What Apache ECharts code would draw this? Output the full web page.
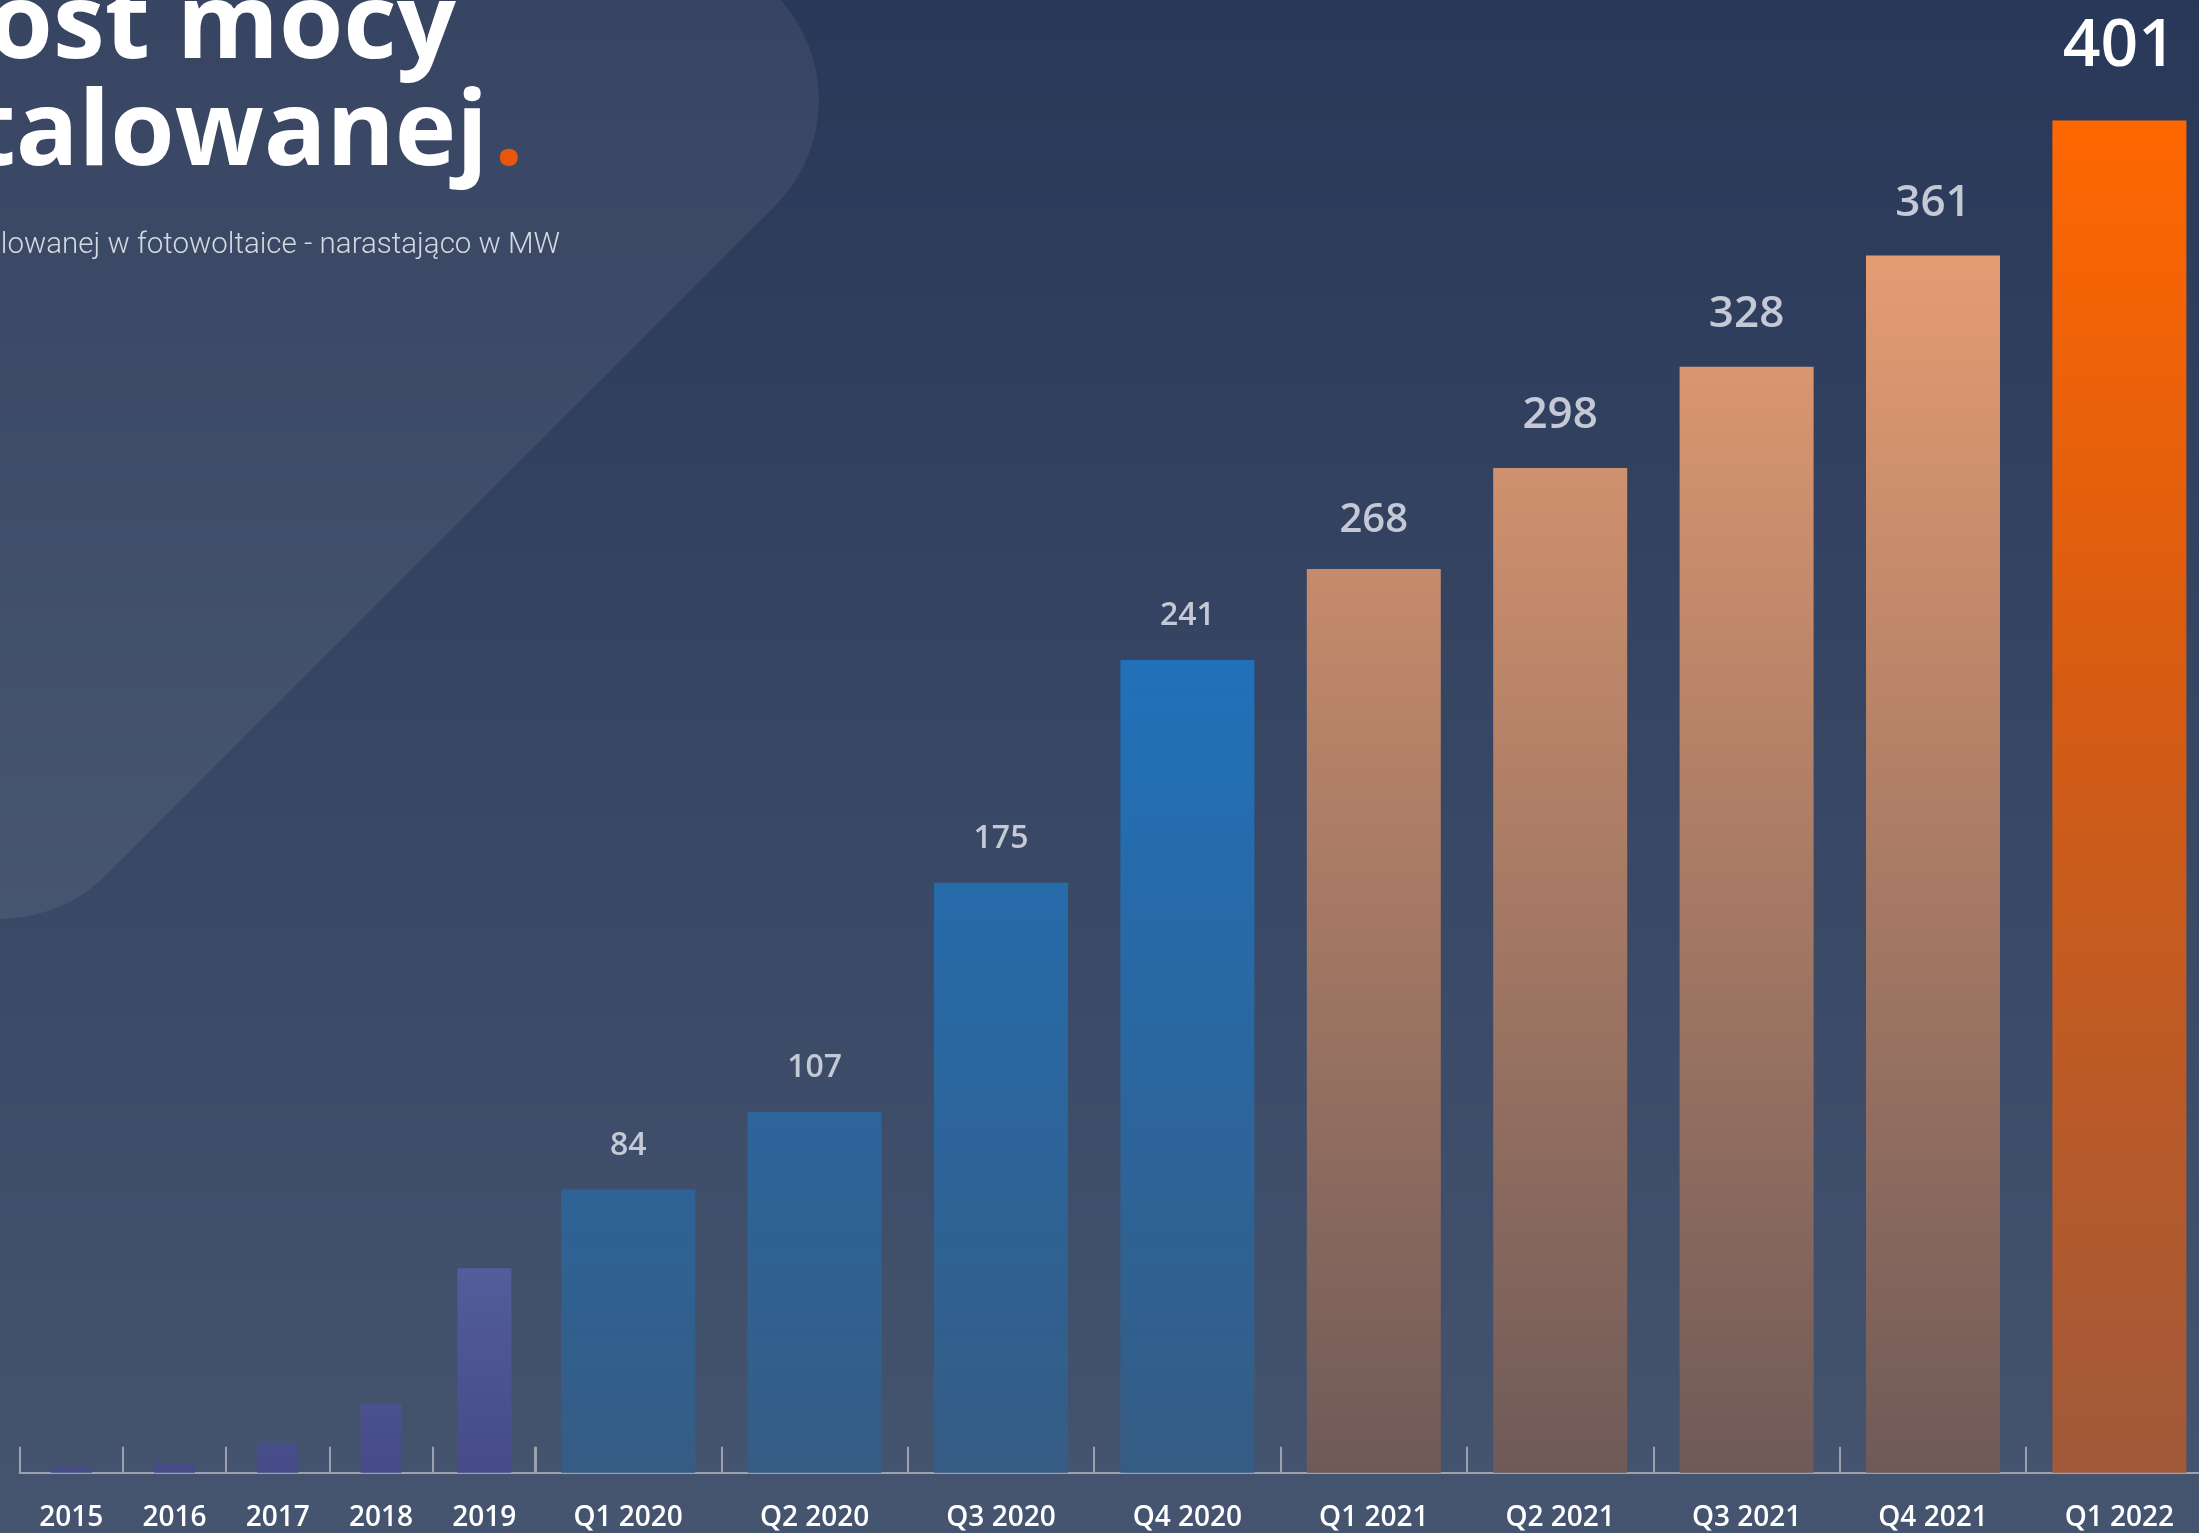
<!DOCTYPE html>
<html><head><meta charset="utf-8">
<script src="https://cdn.jsdelivr.net/npm/echarts@6/dist/echarts.min.js"></script>
<style>html,body{margin:0;padding:0;background:#2f3d5b;overflow:hidden}#c{width:2199px;height:1533px}</style>
</head><body><div id="c"></div>
<script>
// ---- data ----
const yearCategories = ['2015', '2016', '2017', '2018', '2019'];
const yearValues = [1.7, 2.8, 8.5, 20.5, 60.6];
const quarterCategories = ['Q1 2020', 'Q2 2020', 'Q3 2020', 'Q4 2020', 'Q1 2021', 'Q2 2021', 'Q3 2021', 'Q4 2021', 'Q1 2022'];
const quarterValues = [84, 107, 175, 241, 268, 298, 328, 361, 401];
const titleLine1 = 'Wzrost mocy';
const titleLine2 = 'zainstalowanej';
const titleDot = '.';
const subtitleText = 'Wzrost mocy zainstalowanej w fotowoltaice - narastająco w MW';

// ---- styles ----
const W = 2199, H = 1533;
const FONT = '"Open Sans", "Noto Sans", sans-serif';
const axisColor = '#9ba1ad';
function grad(y1, y2, stops) {
  return { type: 'linear', x: 0, y: y1, x2: 0, y2: y2, global: true,
    colorStops: stops.map(s => ({ offset: s[0], color: s[1] })) };
}
const yearGrad = grad(1200, 1473, [[0, '#5663a1'], [1, '#464b87']]);
const blueGrad = grad(450, 1473, [[0, '#1a7ed8'], [0.15, '#1f72bd'], [1, '#355c84']]);
const orangeGrad = grad(200, 1473, [[0, '#e99f73'], [1, '#6f5a58']]);
const brightGrad = grad(120, 1473, [[0, '#ff6700'], [0.4, '#d85c12'], [1, '#a0593a']]);

function quarterColor(i) {
  if (i < 4) return blueGrad;
  if (i < 8) return orangeGrad;
  return brightGrad;
}
function quarterLabel(i) {
  if (i < 4) return { fontSize: 32, color: '#c4c9d5', distance: 28 };
  if (i === 4) return { fontSize: 40, color: '#c4c9d5', distance: 28 };
  if (i < 8) return { fontSize: 44, color: '#c4c9d5', distance: 30 };
  return { fontSize: 66, color: '#ffffff', distance: 40 };
}

const axisCommon = {
  type: 'category',
  axisLine: { show: true, lineStyle: { color: axisColor, width: 2 } },
  axisTick: { show: true, inside: true, length: 26, lineStyle: { color: axisColor, width: 2 } },
  axisLabel: { color: '#ffffff', fontSize: 28, fontWeight: 600, fontFamily: FONT, margin: 31, interval: 0 },
  splitLine: { show: false }
};

const gridTop = 120.6, gridBottom = H - 1472.7;
const option = {
  animation: false,
  backgroundColor: 'transparent',
  grid: [
    { left: 19.6, width: 516.4, top: gridTop, bottom: gridBottom, outerBoundsMode: 'none', containLabel: false },
    { left: 535, width: 1677.6, top: gridTop, bottom: gridBottom, outerBoundsMode: 'none', containLabel: false }
  ],
  xAxis: [
    Object.assign({}, axisCommon, { gridIndex: 0, data: yearCategories }),
    { type: 'category', gridIndex: 0, data: yearCategories, show: false, position: 'bottom' },
    Object.assign({}, axisCommon, { gridIndex: 1, data: quarterCategories })
  ],
  yAxis: [
    { type: 'value', gridIndex: 0, min: 0, max: 401, show: false },
    { type: 'value', gridIndex: 1, min: 0, max: 401, show: false }
  ],
  graphic: [
    { type: 'rect', z: -20, silent: true, shape: { x: 0, y: 0, width: W, height: H },
      style: { fill: new echarts.graphic.LinearGradient(0, 0, 0, 1, [
        { offset: 0, color: '#293858' }, { offset: 1, color: '#45556f' }]) } },
    { type: 'rect', z: -19, silent: true, x: 0, y: 100, rotation: Math.PI / 4,
      shape: { x: -623, y: -623, width: 1246, height: 1246, r: 150 },
      style: { fill: 'rgba(255,255,255,0.065)' } },
    { type: 'text', z: 10, silent: true, x: 456, y: 28,
      style: { text: titleLine1, font: 'bold 104px ' + FONT, fill: '#ffffff', textAlign: 'right', textVerticalAlign: 'middle' } },
    { type: 'text', z: 10, silent: true, x: 488, y: 135,
      style: { text: titleLine2, font: 'bold 104px ' + FONT, fill: '#ffffff', textAlign: 'right', textVerticalAlign: 'middle' } },
    { type: 'text', z: 10, silent: true, x: 494, y: 135,
      style: { text: titleDot, font: 'bold 104px ' + FONT, fill: '#e8560e', textAlign: 'left', textVerticalAlign: 'middle' } },
    { type: 'text', z: 10, silent: true, x: 560, y: 246,
      style: { text: subtitleText, font: '300 29.5px Roboto, sans-serif', fill: '#d5d9e1', textAlign: 'right', textVerticalAlign: 'middle' } }
  ],
  series: [
    { type: 'bar', name: 'roczne', xAxisIndex: 0, yAxisIndex: 0, barWidth: 41,
      data: yearValues.map((v, i) => i < 4 ? v : '-'),
      itemStyle: { color: yearGrad } },
    { type: 'bar', name: 'roczne 2019', xAxisIndex: 1, yAxisIndex: 0, barWidth: 54,
      data: yearValues.map((v, i) => i === 4 ? v : '-'),
      itemStyle: { color: yearGrad } },
    { type: 'bar', name: 'kwartalne', xAxisIndex: 2, yAxisIndex: 1, barWidth: 134,
      data: quarterValues.map((v, i) => ({ value: v, itemStyle: { color: quarterColor(i) },
        label: Object.assign({ show: true }, quarterLabel(i)) })),
      label: { show: true, position: 'top', fontFamily: FONT, fontWeight: 600 } }
  ]
};
const chart = echarts.init(document.getElementById('c'), null, { width: W, height: H, renderer: 'canvas' });
chart.setOption(option);
</script>
</body></html>
